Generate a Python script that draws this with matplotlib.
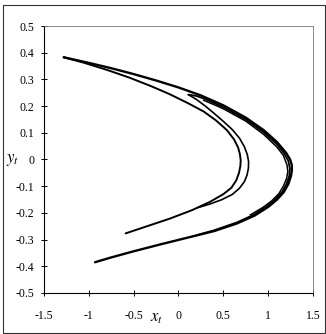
import numpy as np, matplotlib; matplotlib.use('Agg')
import matplotlib.pyplot as plt
from matplotlib.patches import Rectangle

# strands of the attractor (x_t, y_t)
outer_x = [-1.280, -1.00, -0.75, -0.50, -0.25, 0.00, 0.25, 0.50, 0.75, 0.95, 1.10, 1.20, 1.245, 1.263, 1.265, 1.255, 1.225, 1.175, 1.10, 1.00, 0.85, 0.65, 0.40, 0.10, -0.20, -0.50, -0.75, -0.931]
outer_y = [0.383, 0.362, 0.342, 0.320, 0.296, 0.270, 0.240, 0.203, 0.157, 0.110, 0.065, 0.025, 0.000, -0.020, -0.040, -0.062, -0.092, -0.122, -0.150, -0.178, -0.210, -0.240, -0.268, -0.293, -0.318, -0.344, -0.367, -0.385]
band1_x = [0.11, 0.20, 0.30, 0.40, 0.50, 0.75, 0.95, 1.10, 1.18, 1.225, 1.243, 1.235, 1.205, 1.155, 1.08, 0.98, 0.84, 0.65, 0.40, 0.20]
band1_y = [0.243, 0.238, 0.226, 0.211, 0.196, 0.150, 0.102, 0.056, 0.022, -0.005, -0.035, -0.062, -0.092, -0.122, -0.150, -0.177, -0.207, -0.236, -0.265, -0.284]
band2_x = [0.28, 0.40, 0.50, 0.75, 0.95, 1.10, 1.17, 1.21, 1.22, 1.205, 1.17, 1.12, 1.04, 0.94, 0.80]
band2_y = [0.222, 0.205, 0.190, 0.144, 0.094, 0.046, 0.015, -0.020, -0.045, -0.072, -0.100, -0.128, -0.155, -0.180, -0.208]
inner_x = [-1.280, -1.05, -0.80, -0.55, -0.30, -0.10, 0.10, 0.28, 0.42, 0.54, 0.62, 0.665, 0.685, 0.694, 0.690, 0.675, 0.645, 0.59, 0.50, 0.35, 0.15, -0.10, -0.35, -0.590]
inner_y = [0.383, 0.362, 0.336, 0.307, 0.274, 0.245, 0.212, 0.180, 0.146, 0.110, 0.075, 0.045, 0.020, -0.003, -0.025, -0.050, -0.078, -0.106, -0.130, -0.159, -0.190, -0.222, -0.250, -0.277]
second_x = [0.11, 0.20, 0.30, 0.40, 0.50, 0.60, 0.68, 0.735, 0.768, 0.782, 0.780, 0.765, 0.735, 0.68, 0.60, 0.48, 0.35, 0.22]
second_y = [0.243, 0.225, 0.200, 0.172, 0.143, 0.112, 0.080, 0.048, 0.018, -0.008, -0.033, -0.058, -0.083, -0.108, -0.131, -0.151, -0.167, -0.180]

xticks = [-1.5, -1, -0.5, 0, 0.5, 1, 1.5]
xticklabels = ['-1.5', '-1', '-0.5', '0', '0.5', '1', '1.5']
yticks = [-0.5, -0.4, -0.3, -0.2, -0.1, 0, 0.1, 0.2, 0.3, 0.4, 0.5]
yticklabels = ['-0.5', '-0.4', '-0.3', '-0.2', '-0.1', '0', '0.1', '0.2', '0.3', '0.4', '0.5']

plt.rcParams['font.family'] = ['Liberation Serif', 'DejaVu Serif']
plt.rcParams['mathtext.fontset'] = 'stix'

fig = plt.figure(figsize=(3.26, 3.34), dpi=100)
ax = fig.add_axes([0.135, 0.123, 0.825, 0.799])

for xs, ys, lw in [(outer_x, outer_y, 1.7), (band1_x, band1_y, 1.3), (band2_x, band2_y, 1.1),
                   (inner_x, inner_y, 1.4), (second_x, second_y, 1.2)]:
    ax.plot(xs, ys, color='black', lw=lw, solid_capstyle='round', solid_joinstyle='round')

ax.set_xlim(-1.5, 1.5); ax.set_ylim(-0.5, 0.5)
ax.set_xticks(xticks); ax.set_xticklabels(xticklabels)
ax.set_yticks(yticks); ax.set_yticklabels(yticklabels)
ax.tick_params(direction='inout', length=4, width=0.7, labelsize=8.5)
ax.tick_params(axis='x', pad=10)
ax.tick_params(axis='y', pad=5)
for s in ['left', 'bottom']:
    ax.spines[s].set_linewidth(0.8)
for s in ['top', 'right']:
    ax.spines[s].set_linewidth(0.6); ax.spines[s].set_color('#777777')

ax.text(0.42, -0.095, '$x_t$', transform=ax.transAxes, ha='center', va='center', fontsize=12)
ax.text(-0.118, 0.498, '$y_t$', transform=ax.transAxes, ha='center', va='center', fontsize=12)

fig.patches.append(Rectangle((0.009, 0.003), 0.988, 0.982, transform=fig.transFigure,
                             fill=False, edgecolor='#333333', lw=0.8))

fig.savefig('out.png', dpi=100)
